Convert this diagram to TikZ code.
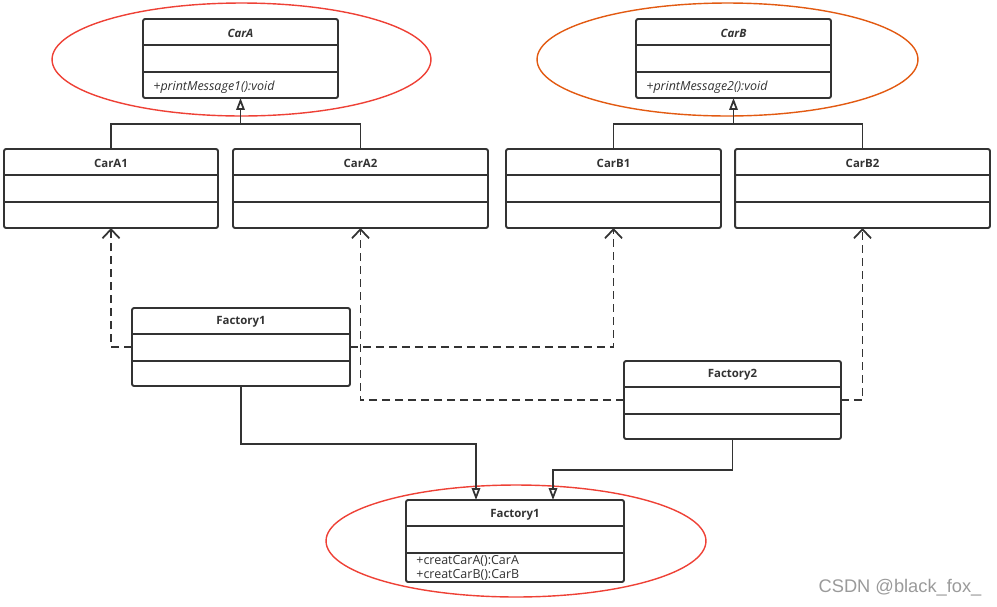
\documentclass[tikz,border=0pt]{standalone}
\usepackage{fontspec}
\setmainfont{Open Sans}
\newfontfamily\markfont{Liberation Sans}
\usetikzlibrary{arrows.meta,shapes.geometric}
\definecolor{umlline}{HTML}{333333}
\definecolor{ovalred}{HTML}{EE4136}
\definecolor{ovalorange}{HTML}{E25A12}
\definecolor{markgray}{HTML}{9A9A9A}
\tikzset{
	classbox/.style={draw=umlline, line width=1.1pt, rounded corners=1.2pt, fill=white, inner sep=0pt, outer sep=0pt},
	classname/.style={text=umlline, font=\fontsize{6.5}{7.5}\selectfont\bfseries, inner sep=0pt},
	method/.style={text=umlline, font=\fontsize{7.1}{8}\selectfont, anchor=west, align=left, inner sep=0pt},
	oval/.style={ellipse, line width=0.8pt, inner sep=0pt},
	link/.style={draw=umlline, line width=1pt},
	inherit/.style={link, -{Triangle[open, length=2.4mm, width=1.7mm]}},
	depend/.style={link, dash pattern=on 1.6mm off 1mm, -{Straight Barb[length=1.8mm, width=3.4mm]}},
	watermark/.style={text=markgray, font=\markfont\fontsize{10.4}{12}\selectfont, inner sep=0pt}
}
\begin{document}
\begin{tikzpicture}[x=0.02cm, y=-0.02cm]
	\useasboundingbox (0,0) rectangle (997,606);
	\node[oval, draw=ovalred, minimum width=7.58cm, minimum height=2.26cm] (ovalA) at (241.5,59.5) {};
	\node[oval, draw=ovalorange, minimum width=7.62cm, minimum height=2.26cm] (ovalB) at (727.5,59.5) {};
	\node[oval, draw=ovalred, minimum width=7.6cm, minimum height=2.24cm] (ovalC) at (516,541) {};
	\node[classbox, minimum width=3.9cm, minimum height=1.58cm] (carA) at (240.5,58.5) {};
	\node[classbox, minimum width=3.9cm, minimum height=1.58cm] (carB) at (733.5,58.5) {};
	\node[classbox, minimum width=4.28cm, minimum height=1.58cm] (carA1) at (111,188.5) {};
	\node[classbox, minimum width=5.1cm, minimum height=1.58cm] (carA2) at (360.5,188.5) {};
	\node[classbox, minimum width=4.3cm, minimum height=1.58cm] (carB1) at (613.5,188.5) {};
	\node[classbox, minimum width=5.1cm, minimum height=1.58cm] (carB2) at (862.5,188.5) {};
	\node[classbox, minimum width=4.36cm, minimum height=1.56cm] (fac1) at (241,347) {};
	\node[classbox, minimum width=4.34cm, minimum height=1.56cm] (fac2) at (732.5,400) {};
	\node[classbox, minimum width=4.36cm, minimum height=1.64cm] (facC) at (515,541) {};
	\foreach \c in {carA,carB,carA1,carA2,carB1,carB2,fac1,fac2,facC}
		\draw[umlline, line width=1.1pt] ([yshift=-0.52cm]\c.north west) -- ([yshift=-0.52cm]\c.north east)
			([yshift=-1.06cm]\c.north west) -- ([yshift=-1.06cm]\c.north east);
	\node[classname] (carAt) at ([yshift=-0.28cm]carA.north) {\itshape CarA};
	\node[classname] (carBt) at ([yshift=-0.28cm]carB.north) {\itshape CarB};
	\node[classname] (carA1t) at ([yshift=-0.28cm]carA1.north) {CarA1};
	\node[classname] (carA2t) at ([yshift=-0.28cm]carA2.north) {CarA2};
	\node[classname] (carB1t) at ([yshift=-0.28cm]carB1.north) {CarB1};
	\node[classname] (carB2t) at ([yshift=-0.28cm]carB2.north) {CarB2};
	\node[classname] (fac1t) at ([yshift=-0.28cm]fac1.north) {Factory1};
	\node[classname] (fac2t) at ([yshift=-0.28cm]fac2.north) {Factory2};
	\node[classname] (facCt) at ([yshift=-0.3cm]facC.north) {Factory1};
	\node[method] (carAm) at ([xshift=0.2cm, yshift=-1.36cm]carA.north west) {\itshape +printMessage1():void};
	\node[method] (carBm) at ([xshift=0.2cm, yshift=-1.36cm]carB.north west) {\itshape +printMessage2():void};
	\node[method] (facCm) at ([xshift=0.2cm, yshift=-1.36cm]facC.north west) {+creatCarA():CarA\\+creatCarB():CarB};
	\coordinate (jA) at (240.5,124);
	\coordinate (jB) at (733.5,124);
	\draw[link] (carA1.north) |- (jA) -| (carA2.north);
	\draw[inherit] (jA) -- (carA.south);
	\draw[link] (carB1.north) |- (jB) -| (carB2.north);
	\draw[inherit] (jB) -- (carB.south);
	\draw[depend] (fac1.west) -| (carA1.south);
	\draw[depend] (fac1.east) -| (carB1.south);
	\draw[depend] (fac2.west) -| (carA2.south);
	\draw[depend] (fac2.east) -| (carB2.south);
	\coordinate (k1) at (476,444);
	\coordinate (k2) at (553,470);
	\draw[inherit] (fac1.south) |- (k1) -- (k1 |- facC.north);
	\draw[inherit] (fac2.south) |- (k2) -- (k2 |- facC.north);
	\node[watermark] (mark) at (900,588) {CSDN @black\_fox\_};
\end{tikzpicture}
\end{document}
